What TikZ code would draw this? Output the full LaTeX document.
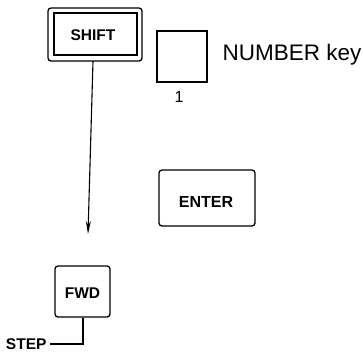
\documentclass[tikz,border=0pt]{standalone}
\usepackage{fontspec}
\setmainfont{Liberation Sans}
\usetikzlibrary{arrows.meta}
\begin{document}
\begin{tikzpicture}[x=1pt,y=-1pt,
  keybox/.style={draw,line width=1.3pt,rounded corners=3pt,inner sep=0pt},
  keylabel/.style={font=\bfseries\fontsize{15.5}{17}\selectfont},
  plain/.style={font=\fontsize{16}{18}\selectfont},
  wire/.style={line width=1.1pt}]
\useasboundingbox (0,0) rectangle (363,354);
% SHIFT key
\node[keybox,minimum width=94pt,minimum height=53pt] (shiftout) at (95,34.5) {};
\node[draw,line width=1.1pt,minimum width=83pt,minimum height=42pt,inner sep=0pt] (shiftin) at (95.5,34) {};
\node[keylabel] (shift) at (93,35) {SHIFT};
% number key
\node[draw,line width=1.2pt,minimum width=50pt,minimum height=51pt,inner sep=0pt] (num) at (182,56.5) {};
\node[plain] (one) at (179,97) {1};
\node[font=\fontsize{22.5}{25}\selectfont,anchor=west] (numlabel) at (219,55) {NUMBER key};
% ENTER key
\node[keybox,minimum width=96pt,minimum height=56pt] (enter) at (207,198) {};
\node[font=\bfseries\fontsize{16}{18}\selectfont] (entert) at (206,202) {ENTER};
% FWD key
\node[keybox,minimum width=55pt,minimum height=51pt] (fwd) at (82.5,291.5) {};
\node[keylabel] (fwdt) at (82.5,293) {FWD};
% arrow
\coordinate (atip) at (88,234);
\draw[wire,-{Stealth[length=13pt,width=5pt]}] (93,61) -- (atip);
% STEP
\node[keylabel,anchor=east] (step) at (50,344) {STEP};
\coordinate (corner) at (83,344);
\draw[wire] (fwd.south -| 83,0) -- (corner) -- (step.east);
\end{tikzpicture}
\end{document}
